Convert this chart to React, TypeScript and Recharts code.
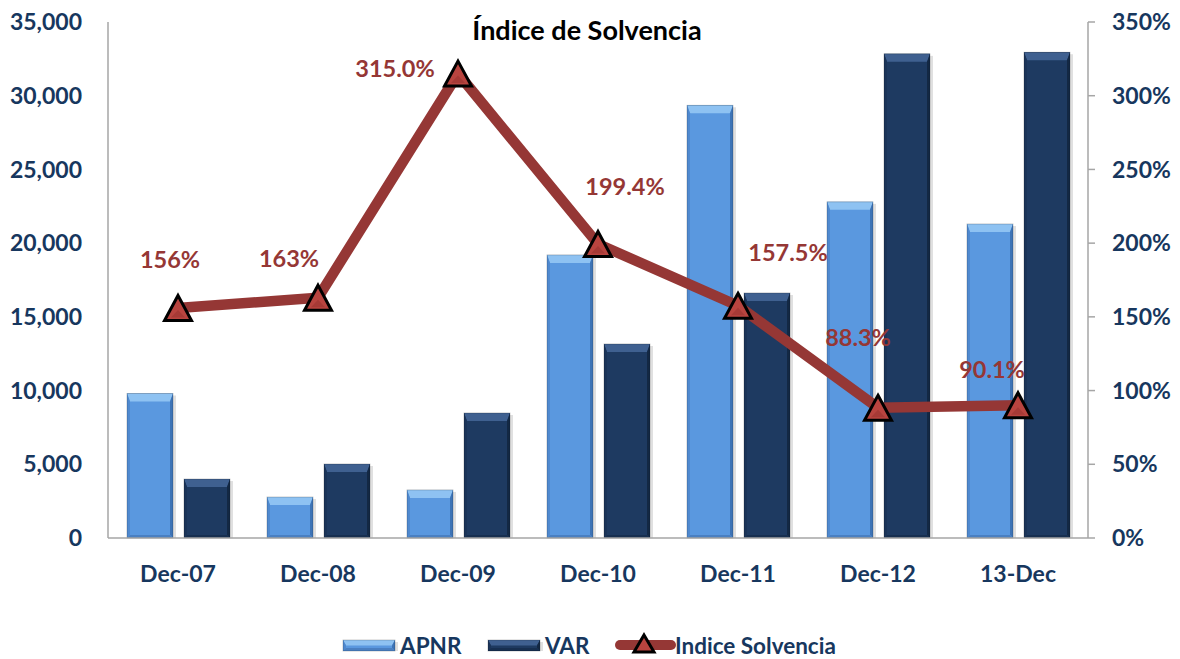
import React from 'react';
import { ComposedChart, Bar, Line, XAxis, YAxis, Legend, LabelList, Customized } from 'recharts';

const categories = ['Dec-07', 'Dec-08', 'Dec-09', 'Dec-10', 'Dec-11', 'Dec-12', '13-Dec'];
const apnr = [9800, 2780, 3260, 19200, 29350, 22800, 21300];
const varValues = [4000, 5020, 8480, 13160, 16620, 32840, 32950];
const solvencia = [156, 163, 315, 199.4, 157.5, 88.3, 90.1];
const solvenciaLabels = ['156%', '163%', '315.0%', '199.4%', '157.5%', '88.3%', '90.1%'];
const leftTicks = [0, 5000, 10000, 15000, 20000, 25000, 30000, 35000];
const rightTicks = [0, 50, 100, 150, 200, 250, 300, 350];

// label placement offsets (dx, dy) relative to each point
const labelOffsets: [number, number][] = [
  [-8, -49], [-29, -40], [-63, -6], [27, -58], [50, -54], [-20, -71], [-26, -36],
];

const data = categories.map((c, i) => ({
  cat: c,
  apnr: apnr[i],
  vr: varValues[i],
  sol: solvencia[i],
  label: solvenciaLabels[i],
}));

const FONT = 'Lato, "Open Sans", sans-serif';
const NAVY = '#17375E';
const RED_TEXT = '#953735';
const LINE_RED = '#953735';
const AXIS_GRAY = '#A6A6A6';

const PALETTE = {
  apnr: { base: '#5A98DF', top: '#8EC2F2', left: '#4F89CF', right: '#3E74B6', bottom: '#4A80C2' },
  vr: { base: '#1E3A61', top: '#3F6090', left: '#1B3458', right: '#132844', bottom: '#172F50' },
};

function bevelShapes(x: number, y: number, w: number, h: number, p: any) {
  const t = Math.min(8, h / 2);
  const s = Math.min(3, w / 4);
  const bb = Math.min(3, h / 3);
  return (
    <g>
      <rect x={x + 3} y={y + 2} width={w} height={h - 2} fill="rgba(0,0,0,0.12)" />
      <rect x={x} y={y} width={w} height={h} fill={p.base} />
      <polygon points={`${x},${y} ${x + w},${y} ${x + w - s},${y + t} ${x + s},${y + t}`} fill={p.top} />
      <polygon points={`${x},${y} ${x + s},${y + t} ${x + s},${y + h - bb} ${x},${y + h}`} fill={p.left} />
      <polygon points={`${x + w},${y} ${x + w - s},${y + t} ${x + w - s},${y + h - bb} ${x + w},${y + h}`} fill={p.right} />
      <polygon points={`${x},${y + h} ${x + s},${y + h - bb} ${x + w - s},${y + h - bb} ${x + w},${y + h}`} fill={p.bottom} />
      <rect x={x} y={y} width={w} height={h} fill="none" stroke="rgba(0,0,0,0.25)" strokeWidth={0.8} />
    </g>
  );
}

const ApnrShape = (props: any) => {
  const { x, y, width, height } = props;
  if (!height || height <= 0) return <g />;
  return bevelShapes(x, y, width, height, PALETTE.apnr);
};
const VarShape = (props: any) => {
  const { x, y, width, height } = props;
  if (!height || height <= 0) return <g />;
  return bevelShapes(x, y, width, height, PALETTE.vr);
};

const Triangle = (props: any) => {
  const { cx, cy } = props;
  if (cx == null || cy == null) return <g />;
  const w = 27;
  const h = 25;
  return (
    <g>
      <polygon
        points={`${cx},${cy - h / 2} ${cx + w / 2},${cy + h / 2} ${cx - w / 2},${cy + h / 2}`}
        fill="#B8443F"
        stroke="#000"
        strokeWidth={3}
      />
      <polygon points={`${cx - 7},${cy + h / 2 - 3} ${cx + 7},${cy + h / 2 - 3} ${cx},${cy + 2}`} fill="#A63A36" />
    </g>
  );
};

const SolLabel = (props: any) => {
  const { x, y, value, index } = props;
  const [dx, dy] = labelOffsets[index] || [0, -30];
  return (
    <text x={x + dx} y={y + dy} textAnchor="middle" dominantBaseline="central" fill={RED_TEXT}
      fontFamily={FONT} fontWeight={700} fontSize={23.5}>
      {value}
    </text>
  );
};

const LegendContent = () => (
  <svg width={1180} height={30} style={{ display: 'block' }}>
    <g transform="translate(343,10)">{bevelShapes(0, 0, 52, 11, PALETTE.apnr)}</g>
    <text x={400} y={15} dominantBaseline="central" fill={NAVY} fontFamily={FONT} fontWeight={700} fontSize={22.5}>APNR</text>
    <g transform="translate(488,10)">{bevelShapes(0, 0, 52, 11, PALETTE.vr)}</g>
    <text x={545} y={15} dominantBaseline="central" fill={NAVY} fontFamily={FONT} fontWeight={700} fontSize={22.5}>VAR</text>
    <line x1={620} y1={15} x2={671} y2={15} stroke={LINE_RED} strokeWidth={10} strokeLinecap="round" />
    <polygon points="644,5 654,22 634,22" fill="#B8443F" stroke="#000" strokeWidth={3} />
    <text x={675} y={15} dominantBaseline="central" fill={NAVY} fontFamily={FONT} fontWeight={700} fontSize={22.5}>Indice Solvencia</text>
  </svg>
);

const Title = () => (
  <text x={587} y={29} textAnchor="middle" dominantBaseline="central" fill="#000" fontFamily={FONT} fontWeight={700} fontSize={27}>
    Índice de Solvencia
  </text>
);

const tickStyle = { fill: NAVY, fontFamily: FONT, fontWeight: 700, fontSize: 23 };

export default function App() {
  return (
    <div style={{ position: 'absolute', left: 0, top: 0, width: 1180, height: 659, background: '#fff' }}>
      <ComposedChart
        width={1180}
        height={659}
        data={data}
        margin={{ top: 22, right: 0, left: 0, bottom: 0 }}
        barGap={11}
        barCategoryGap={18}
      >
        <XAxis
          dataKey="cat"
          height={121}
          tickLine={false}
          tickMargin={22}
          axisLine={{ stroke: AXIS_GRAY, strokeWidth: 1.5 }}
          tick={tickStyle}
          interval={0}
        />
        <YAxis
          yAxisId="left"
          orientation="left"
          width={108}
          domain={[0, 35000]}
          ticks={leftTicks}
          tickFormatter={(v: number) => v.toLocaleString('en-US')}
          tickLine={false}
          tickMargin={20}
          axisLine={{ stroke: AXIS_GRAY, strokeWidth: 1.5 }}
          tick={tickStyle}
        />
        <YAxis
          yAxisId="right"
          orientation="right"
          width={92}
          domain={[0, 350]}
          ticks={rightTicks}
          tickFormatter={(v: number) => `${v}%`}
          tickLine={{ stroke: AXIS_GRAY, strokeWidth: 1.5 }}
          tickSize={7}
          tickMargin={17}
          axisLine={{ stroke: AXIS_GRAY, strokeWidth: 1.5 }}
          tick={tickStyle}
        />
        <Legend
          verticalAlign="middle"
          layout="horizontal"
          align="center"
          content={<LegendContent />}
          wrapperStyle={{ top: 630, left: 0, width: 1180, height: 30 }}
        />
        <Bar dataKey="apnr" name="APNR" yAxisId="left" barSize={46} fill={PALETTE.apnr.base}
          shape={<ApnrShape />} isAnimationActive={false} />
        <Bar dataKey="vr" name="VAR" yAxisId="left" barSize={46} fill={PALETTE.vr.base}
          shape={<VarShape />} isAnimationActive={false} />
        <Line dataKey="sol" name="Indice Solvencia" yAxisId="right" stroke={LINE_RED} strokeWidth={10.5}
          dot={<Triangle />} activeDot={false} isAnimationActive={false}>
          <LabelList dataKey="label" content={<SolLabel />} />
        </Line>
        <Customized component={Title} />
      </ComposedChart>
    </div>
  );
}
